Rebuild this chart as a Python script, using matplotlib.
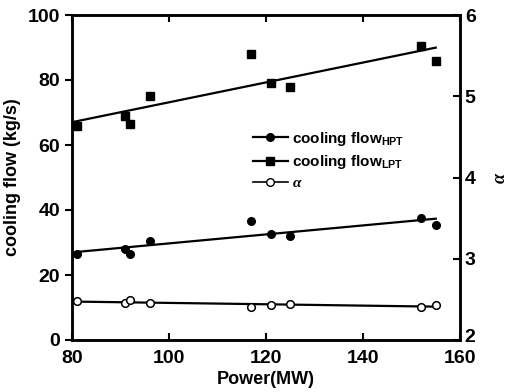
import numpy as np
import matplotlib
matplotlib.use('Agg')
import matplotlib.pyplot as plt
import matplotlib.transforms as mtransforms

plt.rcParams['font.family'] = ['Liberation Sans', 'DejaVu Sans']
plt.rcParams['font.weight'] = 'bold'
plt.rcParams['mathtext.fontset'] = 'custom'
plt.rcParams['mathtext.rm'] = 'Liberation Sans:bold'
plt.rcParams['mathtext.it'] = 'Liberation Serif:italic:bold'

# data
power = [81, 91, 92, 96, 117, 121, 125, 152, 155]
flow_hpt = [26.5, 28, 26.5, 30.5, 36.5, 32.5, 32, 37.5, 35.5]
flow_lpt = [66, 69, 66.5, 75, 88, 79, 78, 90.5, 86]
alpha = [2.48, 2.46, 2.49, 2.45, 2.41, 2.43, 2.44, 2.41, 2.43]

fig = plt.figure(figsize=(5.09, 3.92), dpi=100)
ax = fig.add_axes([72/509, 1-340/392, 388/509, 325/392])
ax2 = ax.twinx()

x = np.array(power)
xf = np.array([80.5, 155])


def fit(y):
    k, b = np.polyfit(x, y, 1)
    return k * xf + b


ax.plot(xf, fit(flow_hpt), 'k-', lw=1.6)
ax.plot(x, flow_hpt, 'ko', ms=5.5, ls='none')
ax.plot(xf, fit(flow_lpt), 'k-', lw=1.6)
ax.plot(x, flow_lpt, 'ks', ms=5.5, ls='none')
ax2.plot(xf, fit(alpha), 'k-', lw=1.6)
ax2.plot(x, alpha, 'o', mfc='white', mec='black', mew=1.1, ms=5.5, ls='none')

# legend handles
h1, = ax.plot([], [], 'k-o', lw=1.6, ms=5.5, label='cooling flow$_{\\mathrm{HPT}}$')
h2, = ax.plot([], [], 'k-s', lw=1.6, ms=5.5, label='cooling flow$_{\\mathrm{LPT}}$')
h3, = ax.plot([], [], 'k-o', lw=1.2, ms=5.5, mfc='white', mec='black', label='$\\mathit{\\alpha}$')
ax.legend(handles=[h1, h2, h3], loc='upper left', bbox_to_anchor=(0.43, 0.69),
          frameon=False, fontsize=11, handlelength=2.3, handletextpad=0.3,
          labelspacing=0.35)

ax.set_xlim(80, 160)
ax.set_ylim(0, 100)
ax2.set_ylim(2, 6)
ax.set_xticks([80, 100, 120, 140, 160])
ax.set_yticks([0, 20, 40, 60, 80, 100])
ax2.set_yticks([2, 3, 4, 5, 6])

ax.set_xlabel('Power(MW)', fontsize=13, fontweight='bold', labelpad=3)
ax.set_ylabel('cooling flow (kg/s)', fontsize=13, fontweight='bold', labelpad=5)
ax2.set_ylabel('$\\alpha$', fontsize=13, rotation=90, labelpad=12)

ax.tick_params(axis='x', direction='in', top=True, labelsize=14, width=1.5, length=5, pad=7)
ax.tick_params(axis='y', direction='out', labelsize=14, width=1.5, length=5)
ax2.tick_params(axis='y', direction='in', labelsize=14, width=1.5, length=5)
for a in (ax, ax2):
    for s in a.spines.values():
        s.set_linewidth(1.8)

fig.canvas.draw()
# lift the bottom right tick label a little so it clears the x labels
lab = ax2.get_yticklabels()[0]
lab.set_transform(lab.get_transform() + mtransforms.ScaledTranslation(0, 3/72, fig.dpi_scale_trans))

fig.savefig('out.png', dpi=100)
